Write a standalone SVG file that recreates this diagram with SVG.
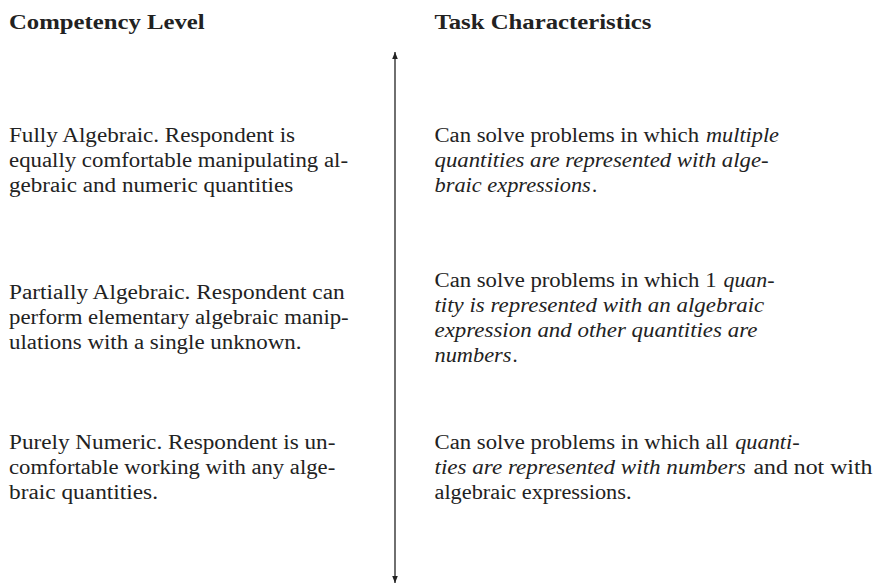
<svg xmlns="http://www.w3.org/2000/svg" width="880" height="588" viewBox="0 0 880 588" font-family="Liberation Serif, Times New Roman, serif">
<style>
  text { font-family: "Liberation Serif", "Times New Roman", Times, serif; font-size: 20.5px; fill: #222; }
  .b { font-weight: bold; }
  .i { font-style: italic; }
  .axis { stroke: #222; stroke-width: 1.3; fill: none; }
</style>
<defs>
  <marker id="tip" viewBox="0 0 10 10" refX="10" refY="5" markerWidth="7" markerHeight="8" markerUnits="userSpaceOnUse" orient="auto-start-reverse">
    <path d="M0,1 L10,5 L0,9 Z" fill="#222"/>
  </marker>
</defs>
<rect width="880" height="588" fill="#fff"/>

<g id="header-left"><text class="b" x="9" y="29" textLength="195.6" lengthAdjust="spacingAndGlyphs">Competency Level</text></g>
<g id="header-right"><text class="b" x="434.5" y="29" textLength="216.9" lengthAdjust="spacingAndGlyphs">Task Characteristics</text></g>

<g id="connectors">
  <line class="axis" x1="395" y1="583" x2="395" y2="52" marker-start="url(#tip)" marker-end="url(#tip)"/>
</g>

<g id="level-fully">
  <text x="9" y="142" textLength="286.1" lengthAdjust="spacingAndGlyphs">Fully Algebraic. Respondent is</text>
  <text x="9" y="167" textLength="339.0" lengthAdjust="spacingAndGlyphs">equally comfortable manipulating al-</text>
  <text x="9" y="192" textLength="284.3" lengthAdjust="spacingAndGlyphs">gebraic and numeric quantities</text>
</g>
<g id="level-partially">
  <text x="9" y="299" textLength="335.7" lengthAdjust="spacingAndGlyphs">Partially Algebraic. Respondent can</text>
  <text x="9" y="324" textLength="339.7" lengthAdjust="spacingAndGlyphs">perform elementary algebraic manip-</text>
  <text x="9" y="349" textLength="292.5" lengthAdjust="spacingAndGlyphs">ulations with a single unknown.</text>
</g>
<g id="level-purely">
  <text x="9" y="449" textLength="326.4" lengthAdjust="spacingAndGlyphs">Purely Numeric. Respondent is un-</text>
  <text x="9" y="474" textLength="326.2" lengthAdjust="spacingAndGlyphs">comfortable working with any alge-</text>
  <text x="9" y="499" textLength="149.0" lengthAdjust="spacingAndGlyphs">braic quantities.</text>
</g>

<g id="task-multiple">
  <text x="434.5" y="142" textLength="264.5" lengthAdjust="spacingAndGlyphs">Can solve problems in which</text>
  <text class="i" x="706" y="142" textLength="73.0" lengthAdjust="spacingAndGlyphs">multiple</text>
  <text class="i" x="434.5" y="167" textLength="334.1" lengthAdjust="spacingAndGlyphs">quantities are represented with alge-</text>
  <text class="i" x="434.5" y="192" textLength="156.3" lengthAdjust="spacingAndGlyphs">braic expressions</text>
  <text x="592" y="192">.</text>
</g>
<g id="task-one">
  <text x="434.5" y="286.5" textLength="282.0" lengthAdjust="spacingAndGlyphs">Can solve problems in which 1</text>
  <text class="i" x="723.5" y="286.5" textLength="51.0" lengthAdjust="spacingAndGlyphs">quan-</text>
  <text class="i" x="434.5" y="311.5" textLength="329.8" lengthAdjust="spacingAndGlyphs">tity is represented with an algebraic</text>
  <text class="i" x="434.5" y="336.5" textLength="322.9" lengthAdjust="spacingAndGlyphs">expression and other quantities are</text>
  <text class="i" x="434.5" y="361.5" textLength="77.0" lengthAdjust="spacingAndGlyphs">numbers</text>
  <text x="512.5" y="361.5">.</text>
</g>
<g id="task-all">
  <text x="434.5" y="449" textLength="293.7" lengthAdjust="spacingAndGlyphs">Can solve problems in which all</text>
  <text class="i" x="735.2" y="449" textLength="64.4" lengthAdjust="spacingAndGlyphs">quanti-</text>
  <text class="i" x="434.5" y="474" textLength="311.3" lengthAdjust="spacingAndGlyphs">ties are represented with numbers</text>
  <text x="753.5" y="474" textLength="119.0" lengthAdjust="spacingAndGlyphs">and not with</text>
  <text x="434.5" y="499" textLength="197.0" lengthAdjust="spacingAndGlyphs">algebraic expressions.</text>
</g>
</svg>
